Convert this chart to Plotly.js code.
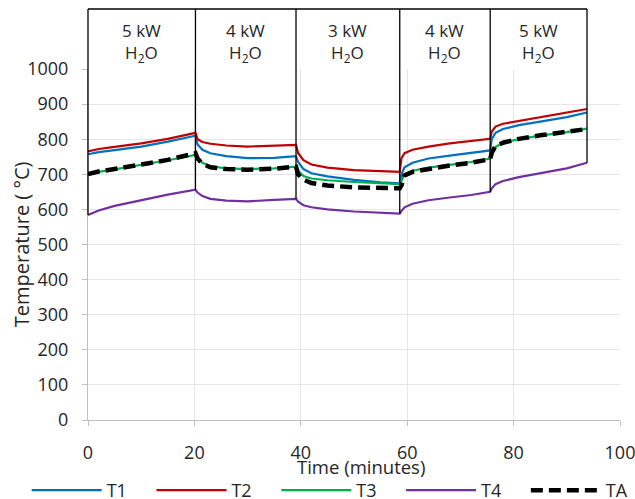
<!DOCTYPE html>
<html>
<head>
<meta charset="utf-8">
<script src="https://cdn.plot.ly/plotly-3.0.1.min.js"></script>
<style>html,body{margin:0;padding:0;background:#fff;}</style>
</head>
<body>
<div id="chart" style="width:635px;height:499px;"></div>
<script>
// ---- data ----
const time = [0, 2, 5, 10, 15, 20.2, 20.6, 21.5, 23, 26, 30, 35, 39.1, 39.5, 40.5, 42, 45, 50, 55, 58.6,
              58.9, 59.5, 61, 64, 68, 72, 75.6, 75.9, 76.6, 78, 81, 85, 90, 93.8];
const T1 = [757, 763, 769, 779, 793, 810, 785, 770, 760, 752, 746, 747, 752, 735, 715, 703, 694, 684, 677, 674,
            700, 720, 733, 745, 753, 760, 768, 800, 818, 829, 840, 850, 863, 876];
const T2 = [765, 772, 778, 788, 801, 818, 800, 792, 787, 782, 779, 781, 784, 760, 740, 728, 719, 712, 708, 707,
            745, 760, 770, 779, 788, 795, 801, 822, 836, 844, 852, 863, 876, 886];
const T3 = [700, 707, 714, 726, 740, 755, 745, 733, 723, 717, 715, 717, 722, 710, 695, 688, 683, 678, 674, 672,
            680, 700, 710, 719, 727, 735, 745, 760, 778, 790, 800, 810, 820, 830];
const T4 = [584, 597, 610, 627, 642, 656, 648, 638, 630, 625, 623, 627, 630, 622, 612, 606, 600, 594, 590, 588,
            595, 606, 616, 626, 634, 641, 650, 660, 672, 681, 692, 703, 717, 733];
const TA = [701, 708, 715, 727, 741, 760, 745, 730, 720, 715, 713, 716, 722, 700, 685, 675, 668, 663, 660, 660,
            668, 697, 707, 716, 725, 733, 743, 762, 780, 790, 801, 811, 821, 829];
const seriesNames = ['T1', 'T2', 'T3', 'T4', 'TA'];
const seriesColors = ['#0070c0', '#c00000', '#00b050', '#7030a0', '#000000'];
const boundaries = [0, 20.2, 39.1, 58.6, 75.6, 93.8];
const powerLabels = ['5 kW', '4 kW', '3 kW', '4 kW', '5 kW'];
const gasLabel = 'H<sub>2</sub>O';
const xTicks = [0, 20, 40, 60, 80, 100];
const yTicks = [0, 100, 200, 300, 400, 500, 600, 700, 800, 900, 1000];
const xTitle = 'Time (minutes)';
const yTitle = 'Temperature ( °C)';

// ---- build ----
const FONT = '"Open Sans", "DejaVu Sans", sans-serif';
const TXT = '#262626';
const seriesValues = [T1, T2, T3, T4, TA];

const traces = seriesNames.map((name, i) => ({
  type: 'scatter', mode: 'lines', name: name,
  x: time, y: seriesValues[i],
  line: name === 'TA'
    ? {color: seriesColors[i], width: 4.5, dash: '12px,6px'}
    : {color: seriesColors[i], width: 2.2},
  hoverinfo: 'skip'
}));

const BOX_TOP = 1.171;
const shapes = [];
boundaries.forEach((b, i) => {
  const low = T4[time.indexOf(b)];
  const first = (i === 0);
  shapes.push({type: 'line', layer: 'above', xref: first ? 'paper' : 'x', yref: 'y',
    x0: first ? 0 : b, x1: first ? 0 : b, y0: low, y1: yTicks[yTicks.length - 1],
    line: {color: '#000', width: 1.3}});
  shapes.push({type: 'line', layer: 'above', xref: first ? 'paper' : 'x', yref: 'paper',
    x0: first ? 0 : b, x1: first ? 0 : b, y0: 1, y1: BOX_TOP,
    line: {color: '#000', width: 1.3}});
});
shapes.push({type: 'line', layer: 'above', xref: 'x', yref: 'paper',
  x0: boundaries[0], x1: boundaries[boundaries.length - 1], y0: BOX_TOP, y1: BOX_TOP,
  line: {color: '#000', width: 1.3}});

const annotations = powerLabels.map((p, i) => ({
  xref: 'x', yref: 'paper',
  x: (boundaries[i] + boundaries[i + 1]) / 2, y: 1.075,
  xanchor: 'center', yanchor: 'middle',
  text: p + '<br>' + gasLabel, showarrow: false,
  font: {family: FONT, size: 17, color: TXT}
}));
// axis titles
annotations.push({
  xref: 'paper', yref: 'paper', x: -0.1247, y: 0.5,
  xanchor: 'center', yanchor: 'middle', textangle: -90,
  text: yTitle, showarrow: false,
  font: {family: FONT, size: 20, color: TXT}
});
annotations.push({
  xref: 'paper', yref: 'paper', x: 0.5138, y: -0.133,
  xanchor: 'center', yanchor: 'middle',
  text: xTitle, showarrow: false,
  font: {family: FONT, size: 18.5, color: TXT}
});

const layout = {
  width: 635, height: 499,
  margin: {l: 88, r: 15, t: 69, b: 79, pad: 0, autoexpand: false},
  paper_bgcolor: '#fff', plot_bgcolor: '#fff',
  font: {family: FONT, size: 18, color: TXT},
  showlegend: true,
  legend: {
    orientation: 'h', x: -0.1153, xanchor: 'left', y: -0.148, yanchor: 'top',
    itemwidth: 70, entrywidth: 39.8, entrywidthmode: 'pixels',
    font: {family: FONT, size: 18, color: TXT}, bgcolor: 'rgba(0,0,0,0)',
    traceorder: 'normal', itemclick: false
  },
  xaxis: {
    range: [xTicks[0], xTicks[xTicks.length - 1]],
    tickvals: xTicks, ticktext: xTicks.map(String),
    showline: true, linecolor: '#bfbfbf', linewidth: 1,
    ticks: 'outside', ticklen: 5, tickcolor: '#bfbfbf', tickwidth: 1,
    showgrid: true, gridcolor: '#e6e6e6', gridwidth: 1, zeroline: false,
    tickfont: {family: FONT, size: 18, color: TXT},
    ticklabelstandoff: 11, ticklabeloverflow: 'allow',
    automargin: false, fixedrange: true
  },
  yaxis: {
    range: [yTicks[0], yTicks[yTicks.length - 1]],
    tickvals: yTicks, ticktext: yTicks.map(String),
    showline: true, linecolor: '#bfbfbf', linewidth: 1,
    ticks: 'outside', ticklen: 5, tickcolor: '#bfbfbf', tickwidth: 1,
    showgrid: true, gridcolor: '#e6e6e6', gridwidth: 1, zeroline: false,
    tickfont: {family: FONT, size: 18, color: TXT},
    ticklabelstandoff: 10, ticklabeloverflow: 'allow',
    automargin: false, fixedrange: true
  },
  shapes: shapes,
  annotations: annotations
};

Plotly.newPlot('chart', traces, layout, {displayModeBar: false, staticPlot: true});
</script>
</body>
</html>
